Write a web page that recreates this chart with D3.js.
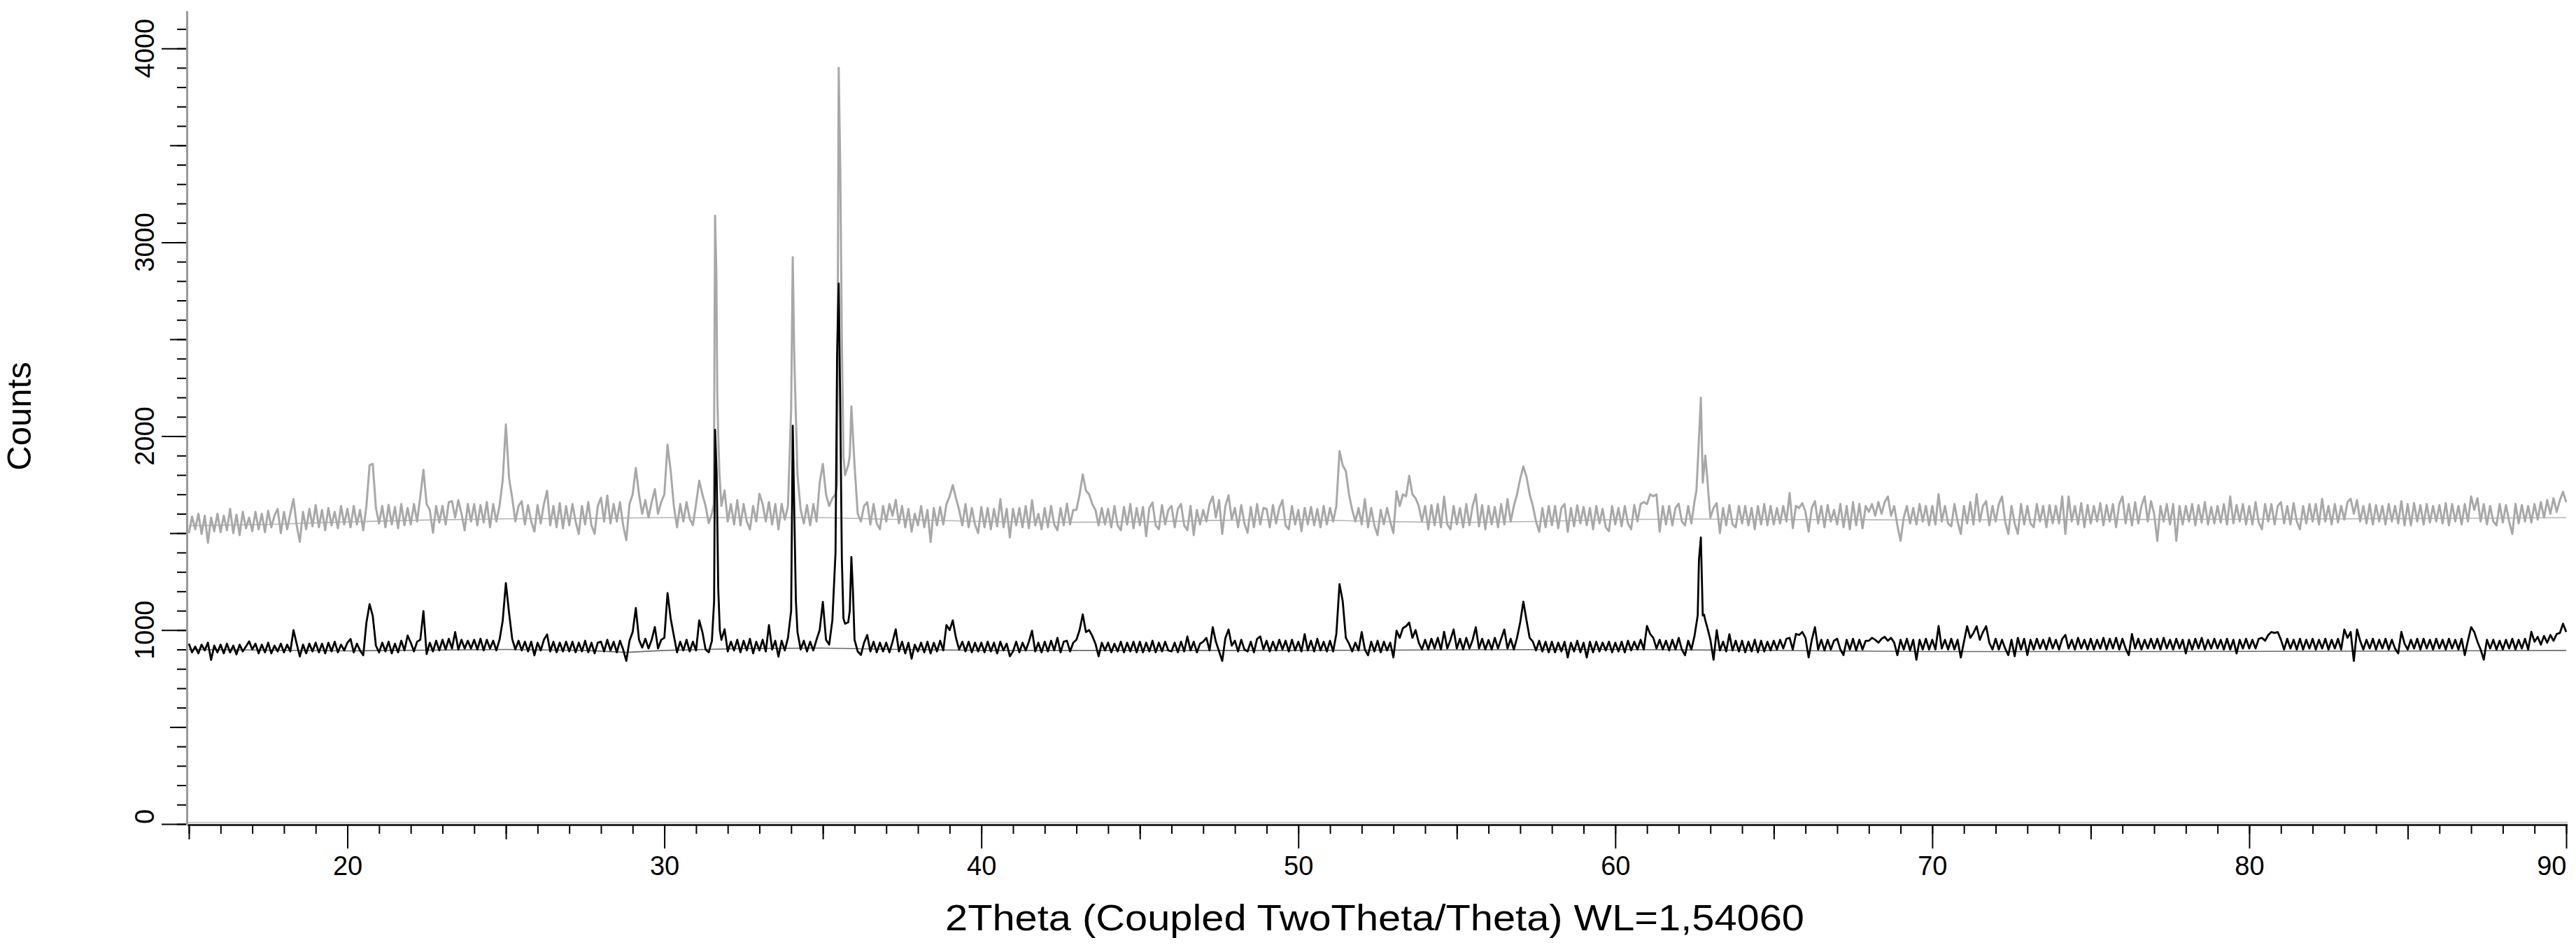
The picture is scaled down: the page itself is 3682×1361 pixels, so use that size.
<!DOCTYPE html>
<html><head><meta charset="utf-8">
<script src="https://cdn.jsdelivr.net/npm/d3@7"></script>
<style>
html,body{margin:0;padding:0;background:#fff;}
svg{display:block;background:#fff;}
text{font-family:"Liberation Sans",Arial,Helvetica,sans-serif;fill:#000;}
</style>
</head><body>
<svg id="chart" width="3682" height="1361"></svg>
<script>
// ---- data ----
const thetaStart = 15, thetaStep = 0.1;   // 2Theta grid 15.0 .. 90.0
const grayCounts = [
1500,1585,1520,1600,1495,1590,1450,1580,1510,1600,
1505,1590,1515,1625,1500,1595,1490,1610,1525,1580,
1510,1610,1520,1600,1505,1615,1530,1590,1625,1500,
1610,1520,1600,1676,1540,1455,1610,1520,1625,1535,
1645,1530,1620,1515,1630,1540,1610,1525,1640,1545,
1625,1530,1640,1545,1620,1515,1640,1850,1857,1630,
1550,1640,1530,1646,1545,1635,1525,1650,1540,1630,
1545,1650,1560,1689,1826,1650,1620,1502,1640,1555,
1640,1545,1660,1665,1580,1670,1600,1514,1650,1560,
1650,1540,1645,1555,1660,1530,1650,1560,1640,1772,
2061,1784,1682,1560,1640,1665,1545,1645,1560,1508,
1645,1550,1650,1718,1540,1640,1530,1655,1525,1640,
1540,1650,1560,1496,1640,1545,1660,1540,1497,1640,
1683,1560,1694,1550,1650,1560,1660,1540,1464,1650,
1700,1836,1700,1600,1670,1580,1660,1727,1600,1660,
1700,1956,1820,1640,1530,1650,1560,1660,1575,1541,
1650,1770,1700,1640,1552,1600,3137,2000,1640,1720,
1560,1650,1545,1670,1540,1650,1560,1519,1640,1560,
1703,1650,1560,1660,1545,1650,1519,1650,1570,1640,
2140,2400,1800,1620,1550,1645,1540,1650,1560,1760,
1857,1700,1640,1680,1700,3900,2500,1800,1850,2154,
1850,1600,1560,1640,1660,1545,1650,1550,1520,1640,
1560,1650,1590,1672,1550,1640,1530,1625,1508,1600,
1540,1640,1530,1620,1454,1630,1540,1635,1545,1650,
1690,1748,1680,1620,1540,1650,1530,1630,1545,1500,
1634,1530,1630,1520,1625,1535,1676,1530,1625,1478,
1625,1540,1630,1530,1640,1525,1670,1540,1600,1520,
1630,1530,1640,1545,1515,1630,1540,1652,1545,1620,
1620,1700,1803,1720,1700,1650,1620,1540,1630,1545,
1625,1530,1640,1540,1515,1635,1545,1650,1525,1630,
1540,1635,1484,1630,1658,1540,1520,1645,1545,1620,
1640,1530,1625,1650,1540,1515,1640,1490,1620,1545,
1620,1560,1650,1689,1580,1670,1496,1640,1695,1570,
1630,1530,1645,1550,1502,1635,1530,1650,1545,1630,
1625,1530,1645,1550,1630,1670,1540,1520,1640,1545,
1620,1510,1630,1545,1635,1540,1625,1530,1640,1545,
1630,1560,1640,1923,1850,1820,1700,1620,1560,1630,
1545,1676,1530,1630,1540,1490,1620,1545,1630,1560,
1500,1716,1640,1700,1690,1796,1700,1680,1640,1560,
1640,1520,1645,1540,1650,1530,1688,1545,1520,1640,
1545,1630,1530,1650,1540,1640,1700,1535,1645,1520,
1640,1545,1635,1530,1650,1545,1676,1560,1640,1700,
1780,1844,1790,1700,1640,1560,1507,1630,1530,1640,
1540,1640,1525,1630,1650,1507,1630,1535,1644,1550,
1635,1540,1630,1520,1640,1550,1625,1530,1510,1640,
1545,1630,1535,1640,1550,1520,1645,1560,1650,1660,
1650,1700,1690,1700,1507,1640,1545,1640,1540,1630,
1652,1560,1540,1640,1550,1664,1850,2199,1830,1790,
1580,1630,1655,1500,1630,1540,1645,1545,1530,1640,
1550,1640,1540,1630,1520,1640,1545,1650,1540,1640,
1545,1630,1550,1640,1560,1707,1526,1640,1630,1655,
1610,1508,1630,1665,1550,1640,1530,1645,1560,1620,
1545,1650,1530,1640,1520,1660,1540,1650,1525,1640,
1610,1650,1590,1660,1600,1660,1689,1590,1640,1540,
1460,1580,1640,1550,1630,1545,1650,1560,1640,1540,
1640,1545,1701,1560,1640,1550,1535,1650,1560,1496,
1640,1550,1660,1545,1701,1560,1640,1665,1540,1640,
1560,1650,1689,1560,1496,1640,1550,1496,1650,1545,
1640,1550,1530,1650,1560,1640,1530,1645,1550,1640,
1550,1689,1496,1689,1560,1640,1545,1655,1530,1645,
1550,1640,1560,1655,1540,1645,1560,1650,1530,1650,
1689,1550,1650,1540,1660,1550,1640,1689,1560,1665,
1600,1460,1640,1560,1650,1545,1650,1460,1640,1545,
1640,1560,1650,1540,1645,1555,1660,1545,1635,1550,
1640,1555,1650,1545,1689,1550,1645,1560,1650,1545,
1640,1545,1660,1555,1520,1650,1560,1650,1545,1640,
1660,1550,1640,1545,1655,1560,1520,1640,1550,1650,
1560,1650,1545,1677,1560,1640,1545,1650,1555,1640,
1570,1660,1677,1600,1670,1560,1640,1550,1650,1545,
1645,1560,1640,1545,1650,1560,1640,1550,1665,1540,
1650,1540,1655,1560,1645,1545,1650,1555,1640,1560,
1645,1550,1655,1540,1650,1560,1640,1545,1650,1560,
1689,1620,1680,1560,1650,1545,1640,1560,1540,1650,
1555,1645,1560,1496,1650,1550,1645,1560,1640,1555,
1650,1570,1660,1580,1670,1600,1680,1610,1670,1713,
1660];
const blackCounts = [
930,885,915,880,925,895,935,846,920,885,
925,880,930,885,920,875,925,890,915,942,
900,930,880,925,885,935,880,920,890,930,
885,925,890,1000,930,864,925,880,930,890,
935,885,930,880,935,890,940,885,925,895,
935,954,885,930,895,870,1038,1134,1074,920,
885,935,890,940,880,930,885,945,895,972,
935,890,940,950,1098,876,935,890,945,895,
950,900,955,905,990,900,950,905,945,905,
950,900,955,895,950,905,945,895,950,1048,
1242,1090,954,900,945,895,940,890,940,870,
935,895,950,978,890,940,885,935,890,940,
890,940,885,935,890,945,885,935,880,935,
940,890,950,895,940,885,945,900,841,945,
990,1114,950,910,955,905,950,1016,905,950,
960,1191,1060,970,885,940,895,950,890,940,
895,1050,990,900,885,945,2033,1213,950,1004,
890,940,895,950,885,945,895,955,880,940,
895,950,890,1026,900,945,863,945,895,960,
1100,1600,990,900,945,890,940,895,950,1000,
1146,950,925,1050,1400,2787,1363,1033,1040,1377,
950,890,872,935,975,890,940,885,935,890,
935,885,940,1004,890,940,880,935,852,925,
890,935,885,940,880,935,890,945,895,1026,
1000,1050,960,900,940,890,940,885,935,890,
935,885,940,890,935,880,940,895,930,865,
890,940,885,935,895,940,997,890,935,885,
940,890,945,895,960,885,940,945,890,935,
950,1000,1081,990,1000,970,930,865,935,895,
935,885,930,890,940,885,935,890,940,885,
940,885,935,890,945,885,935,890,940,895,
890,935,885,940,890,967,895,940,885,930,
940,960,895,1015,940,890,841,960,1003,920,
945,890,950,900,890,940,885,955,967,900,
945,890,940,895,950,900,945,890,950,895,
940,890,979,895,945,890,955,895,940,890,
945,890,980,1237,1150,960,930,890,935,895,
990,900,870,940,890,945,885,940,895,935,
859,997,960,1010,1020,1039,960,1000,935,900,
950,900,955,905,960,900,991,905,950,1003,
905,955,900,960,905,950,1015,905,955,900,
949,900,960,905,955,1003,905,955,900,960,
1040,1147,1050,960,940,895,945,890,940,885,
940,885,935,890,940,859,935,890,945,885,
935,859,940,885,940,890,935,895,940,885,
935,890,940,885,945,895,940,900,950,900,
1021,980,960,905,950,900,945,895,950,900,
960,900,870,945,900,970,1075,1478,1080,1015,
950,847,1000,895,940,890,979,895,945,890,
945,885,940,890,950,885,945,890,940,895,
945,900,950,905,955,960,900,980,975,990,
960,859,950,1015,900,950,895,950,900,945,
955,900,871,950,900,955,895,950,900,945,
945,960,950,935,955,965,945,960,935,871,
950,900,955,895,950,847,950,900,955,900,
950,900,1021,905,950,900,955,900,950,859,
940,1020,960,985,1020,950,990,1020,935,900,
955,900,950,905,871,950,865,960,900,955,
871,950,900,955,905,950,900,960,905,950,
900,955,975,905,950,900,960,905,950,900,
955,900,950,905,960,900,955,905,960,900,
955,905,871,980,905,955,900,950,905,955,
905,955,900,960,905,950,900,955,905,950,
880,950,900,955,905,960,900,950,905,955,
905,950,900,955,900,950,880,950,905,955,
905,950,905,955,960,945,975,990,985,990,
950,900,955,905,950,900,955,900,950,905,
955,900,950,905,955,900,950,905,955,900,
1003,960,990,841,1003,945,900,950,905,955,
900,950,905,955,900,950,905,880,991,930,
900,950,905,955,900,955,905,950,900,955,
905,950,900,955,905,950,900,955,871,945,
1015,990,940,900,847,950,905,950,900,945,
900,950,905,955,900,950,905,955,900,991,
940,965,925,970,935,975,945,980,985,1033,
990];
// extra points on the sharp peaks (between grid steps)
const grayPeakTheta  = [31.56,31.64,31.67,31.74,34.05,34.15,35.45,35.55,35.65,35.85,35.95,62.56,62.64,62.76,62.84,62.94];
const grayPeakCounts = [1650, 2843, 2218, 1800, 2923, 2100, 1750, 3380, 1900, 1900, 2000, 1720, 1990, 1760, 1900, 1700];
const blackPeakTheta  = [31.57,31.65,31.75,34.05,34.15,35.45,35.55,35.65,35.85,35.95,62.64,62.76,62.84,62.94];
const blackPeakCounts = [1150, 1804, 1000, 2054, 1150, 2426, 2143, 1060, 1100, 1200, 1363, 1075, 1050, 990];
// fitted background curves
const grayBgTheta  = [15,17.5,20,22.5,25,27.5,30,32.5,35,37.5,40,42.5,45,47.5,50,52.5,55,57.5,60,62.5,65,70,75,80,85,90];
const grayBgCounts = [1538,1545,1558,1568,1574,1576,1580,1580,1580,1570,1560,1556,1558,1566,1570,1560,1555,1560,1570,1573,1570,1568,1570,1572,1575,1580];
const blackBgTheta  = [15,20,25,27.5,28.8,30,32.5,35,37.5,40,45,50,55,60,65,70,75,80,85,90];
const blackBgCounts = [900,893,900,895,885,895,905,907,900,895,895,895,898,900,895,889,889,890,892,895];
// axes
const xTickLabels = [20,30,40,50,60,70,80,90];
const yTickLabels = [0,1000,2000,3000,4000];
const xTitle = "2Theta (Coupled TwoTheta/Theta) WL=1,54060";
const yTitle = "Counts";

// ---- drawing ----
const svg = d3.select('#chart');
const x = d3.scaleLinear().domain([15, 90]).range([270, 3668]);
const y = d3.scaleLinear().domain([0, 4190]).range([1178, 16.5]);

function series(grid, pt, pc) {
  const pts = grid.map((v, i) => ({ t: +(thetaStart + i * thetaStep).toFixed(2), v }));
  pt.forEach((t, i) => pts.push({ t, v: pc[i] }));
  pts.sort((a, b) => a.t - b.t);
  return pts;
}
const line = d3.line().x(d => x(d.t)).y(d => y(d.v));
const bgLine = (th, c) => th.map((t, i) => ({ t, v: c[i] }));

svg.append('path').datum(bgLine(grayBgTheta, grayBgCounts))
  .attr('d', line).attr('fill', 'none').attr('stroke', '#b5b5b5').attr('stroke-width', 1.6);
svg.append('path').datum(bgLine(blackBgTheta, blackBgCounts))
  .attr('d', line).attr('fill', 'none').attr('stroke', '#6a6a6a').attr('stroke-width', 1.6);

svg.append('path').datum(series(grayCounts, grayPeakTheta, grayPeakCounts))
  .attr('d', line).attr('fill', 'none').attr('stroke', '#a8a8a8')
  .attr('stroke-width', 3).attr('stroke-linejoin', 'round');
svg.append('path').datum(series(blackCounts, blackPeakTheta, blackPeakCounts))
  .attr('d', line).attr('fill', 'none').attr('stroke', '#000')
  .attr('stroke-width', 2.8).attr('stroke-linejoin', 'round');

// x axis
const gx = svg.append('g').attr('transform', 'translate(0,1180)');
function xAxis(vals, size, labels) {
  const g = gx.append('g').call(d3.axisBottom(x).tickValues(vals).tickSize(size).tickPadding(11)
    .tickFormat(labels ? d3.format('d') : ''));
  g.select('.domain').remove();
  g.selectAll('line').attr('stroke', '#000').attr('stroke-width', 2);
  return g;
}
xAxis(d3.range(15, 91, 1), 12, false);
xAxis([15, 25, 35, 45, 55, 65, 75, 85], 20, false);
const gxl = xAxis(xTickLabels, 33, true);
gxl.selectAll('text').attr('font-size', 38).attr('font-family', '"Liberation Sans",Arial,sans-serif').attr('fill', '#000')
  .attr('text-anchor', d => d === 90 ? 'end' : 'middle');

svg.append('line').attr('x1', 268).attr('x2', 3670).attr('y1', 1176).attr('y2', 1176)
  .attr('stroke', '#cfcfcf').attr('stroke-width', 2.5);
svg.append('line').attr('x1', 268).attr('x2', 3670).attr('y1', 1179.5).attr('y2', 1179.5)
  .attr('stroke', '#000').attr('stroke-width', 2.5);

// y axis
const gy = svg.append('g').attr('transform', 'translate(267,0)');
function yAxis(vals, size) {
  const g = gy.append('g').call(d3.axisLeft(y).tickValues(vals).tickSize(size).tickFormat(''));
  g.select('.domain').remove();
  g.selectAll('line').attr('stroke', '#000').attr('stroke-width', 2);
}
yAxis(d3.range(0, 4101, 100), 14);
yAxis([500, 1500, 2500, 3500], 24);
yAxis(yTickLabels, 36);
svg.append('line').attr('x1', 267.5).attr('x2', 267.5).attr('y1', 16).attr('y2', 1180)
  .attr('stroke', '#9a9a9a').attr('stroke-width', 3);

svg.append('g').selectAll('text').data(yTickLabels).join('text')
  .attr('x', 220).attr('y', d => y(d))
  .attr('transform', d => `rotate(-90,220,${y(d)})`)
  .attr('text-anchor', d => d === 0 ? 'start' : 'middle')
  .attr('font-size', 38)
  .text(d => d);

// titles
svg.append('text').attr('x', 1965).attr('y', 1330).attr('text-anchor', 'middle')
  .attr('font-size', 52).attr('textLength', 1228).attr('lengthAdjust', 'spacingAndGlyphs')
  .text(xTitle);
svg.append('text').attr('x', 44).attr('y', 595).attr('transform', 'rotate(-90,44,595)')
  .attr('text-anchor', 'middle').attr('font-size', 49).text(yTitle);
</script>
</body></html>
